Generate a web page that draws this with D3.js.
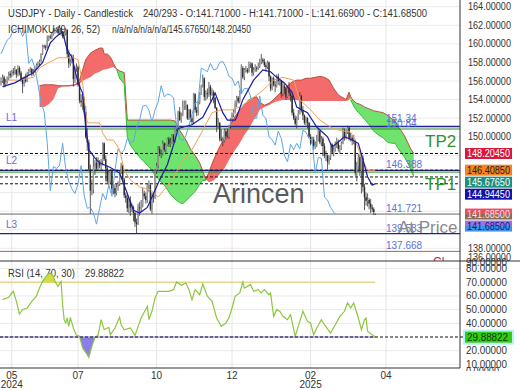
<!DOCTYPE html>
<html>
<head>
<meta charset="utf-8">
<script src="https://cdn.jsdelivr.net/npm/d3@7"></script>
<style>
body { margin: 0; background: #fff; }
svg { display: block; font-family: "Liberation Sans", Arial, sans-serif; }
</style>
</head>
<body>
<svg id="chart" width="520" height="390"></svg>
<script>

// daily candles [open, high, low, close], bar 0 .. 243
var ohlc = [
[155.8,156.4,155.5,156.0],[156.0,156.7,155.8,156.4],[156.4,156.6,155.3,155.6],[155.6,156.2,155.4,155.9],[155.9,156.5,155.7,156.3],
[156.3,157.0,156.1,156.8],[156.8,157.1,156.3,156.6],[156.6,157.2,156.4,157.0],[157.0,157.4,156.6,156.9],[156.9,157.6,156.7,157.2],
[157.2,157.3,156.3,156.7],[156.7,157.7,156.5,157.4],[157.4,157.6,156.6,156.9],[156.9,157.1,155.9,156.2],[156.2,156.4,154.7,155.7],
[155.7,156.5,155.4,156.4],[156.4,156.8,155.8,156.0],[156.0,157.0,155.9,156.9],[156.9,157.3,156.6,157.1],[157.1,157.5,156.9,157.3],
[157.3,157.4,156.5,156.8],[156.8,157.3,156.6,157.0],[157.0,157.6,156.9,157.4],[157.4,157.9,157.2,157.7],[157.7,158.1,157.5,157.9],
[157.9,158.3,157.7,158.1],[158.1,159.0,158.0,158.9],[158.9,159.9,158.8,159.8],[159.8,159.9,159.5,159.7],[159.7,159.9,159.3,159.6],
[159.6,160.9,159.5,160.4],[160.4,160.9,160.3,160.8],[160.8,161.0,160.5,160.7],[160.7,161.2,160.5,161.0],[161.0,161.7,160.9,161.5],
[161.5,161.7,161.1,161.4],[161.4,161.8,161.2,161.6],[161.6,161.9,161.0,161.2],[161.2,161.95,161.1,161.7],[161.7,161.8,160.9,161.3],
[161.3,161.4,160.6,160.8],[160.8,161.3,160.5,161.1],[161.1,161.7,160.9,161.5],[161.5,161.6,158.5,158.9],[158.9,159.4,157.4,157.9],
[157.9,158.4,157.6,158.1],[158.1,158.9,157.9,158.4],[158.4,158.8,155.4,156.2],[156.2,157.6,155.8,157.4],[157.4,157.9,157.0,157.5],
[157.5,157.7,155.4,155.6],[155.6,155.9,153.6,153.9],[153.9,154.6,153.2,153.7],[153.7,154.5,152.9,154.0],[154.0,154.3,152.4,152.7],
[152.7,153.3,149.8,150.0],[150.0,150.9,148.5,149.4],[149.4,149.7,146.3,146.5],[146.5,147.0,141.7,144.2],[144.2,145.4,143.7,144.3],
[144.3,147.8,143.9,146.8],[146.8,147.5,145.9,147.2],[147.2,147.8,146.3,146.6],[146.6,147.8,146.4,147.2],[147.2,147.5,146.6,146.9],
[146.9,147.6,146.5,147.4],[147.4,149.4,146.9,149.3],[149.3,149.4,147.4,147.6],[147.6,148.0,145.2,146.6],[146.6,146.9,145.0,145.2],
[145.2,146.4,144.8,145.2],[145.2,146.5,144.9,146.3],[146.3,146.4,143.9,144.4],[144.4,144.9,143.8,144.5],[144.5,144.9,143.5,143.9],
[143.9,144.9,143.7,144.6],[144.6,145.2,144.2,144.9],[144.9,146.3,144.7,146.2],[146.2,147.2,146.0,146.9],[146.9,147.0,145.2,145.4],
[145.4,145.6,143.4,143.7],[143.7,144.0,142.9,143.4],[143.4,143.8,141.9,142.3],[142.3,143.4,141.8,143.1],[143.1,143.6,141.5,142.4],
[142.4,142.8,141.9,142.4],[142.4,142.6,140.9,141.8],[141.8,141.9,140.3,140.8],[140.8,141.2,139.6,140.6],[140.6,142.8,140.5,142.4],
[142.4,143.0,141.5,142.3],[142.3,143.2,141.9,142.6],[142.6,144.5,142.4,143.9],[143.9,144.2,143.3,143.6],[143.6,144.0,142.8,143.2],
[143.2,144.9,142.9,144.8],[144.8,145.3,144.1,144.8],[144.8,145.0,142.0,142.2],[142.2,144.0,141.7,143.6],[143.6,144.0,142.9,143.5],
[143.5,146.5,143.3,146.4],[146.4,147.2,146.0,146.9],[146.9,149.0,146.6,148.7],[148.7,149.0,147.9,148.2],[148.2,148.6,147.7,148.2],
[148.2,149.6,148.0,149.3],[149.3,149.4,148.4,148.6],[148.6,149.3,148.3,149.1],[149.1,149.9,149.0,149.8],[149.8,150.0,148.9,149.2],
[149.2,149.9,148.9,149.3],[149.3,150.3,149.2,150.1],[150.1,150.3,149.4,149.5],[149.5,151.0,149.4,150.9],[150.9,151.2,150.6,151.0],
[151.0,152.8,150.9,152.7],[152.7,153.2,151.7,151.8],[151.8,152.6,151.5,152.3],[152.3,153.9,152.2,153.3],[153.3,153.9,152.9,153.4],
[153.4,153.9,152.9,153.4],[153.4,153.5,151.8,152.0],[152.0,153.0,151.8,152.9],[152.9,153.0,151.6,152.0],[152.0,152.3,151.3,151.6],
[151.6,154.7,151.4,154.6],[154.6,154.7,152.6,152.9],[152.9,153.2,152.2,152.6],[152.6,153.9,152.3,153.7],[153.7,154.8,153.5,154.6],
[154.6,155.6,154.5,155.5],[155.5,156.7,155.3,156.3],[156.3,156.4,153.9,154.3],[154.3,155.0,153.9,154.7],[154.7,155.2,154.1,154.6],
[154.6,155.9,154.3,155.4],[155.4,155.6,153.8,154.5],[154.5,155.2,154.4,154.8],[154.8,155.0,153.6,154.2],[154.2,154.3,153.0,153.1],
[153.1,153.2,150.5,151.1],[151.1,152.0,150.9,151.5],[151.5,151.6,149.5,149.8],[149.8,150.8,149.5,149.6],[149.6,150.0,149.0,149.6],
[149.6,150.9,149.4,150.6],[150.6,150.9,149.7,150.1],[150.1,150.9,149.9,150.0],[150.0,151.3,149.8,151.2],[151.2,152.0,150.9,151.9],
[151.9,152.6,151.6,152.4],[152.4,153.0,152.1,152.7],[152.7,153.9,152.5,153.6],[153.6,154.4,153.2,154.2],[154.2,154.4,153.6,153.8],
[153.8,155.0,153.6,154.8],[154.8,157.8,154.6,157.4],[157.4,157.6,156.2,156.4],[156.4,157.4,156.1,157.2],[157.2,157.6,156.9,157.2],
[157.2,157.4,156.8,157.0],[157.0,158.1,156.9,157.8],[157.8,158.0,157.4,157.9],[157.9,158.0,156.5,156.9],[156.9,157.5,156.6,157.2],
[157.2,157.8,157.0,157.4],[157.4,157.6,157.0,157.3],[157.3,158.0,157.2,157.6],[157.6,158.4,157.4,158.0],[158.0,158.9,157.8,158.3],
[158.3,158.5,157.9,158.1],[158.1,158.4,157.5,157.7],[157.7,158.0,157.0,157.5],[157.5,158.2,157.3,158.0],[158.0,158.1,156.0,156.5],
[156.5,156.6,154.9,155.2],[155.2,156.4,155.0,156.3],[156.3,156.5,155.4,155.6],[155.6,156.0,154.8,155.5],[155.5,156.7,155.3,156.5],
[156.5,156.8,155.6,156.0],[156.0,156.3,155.5,156.0],[156.0,156.1,154.2,154.6],[154.6,155.9,154.4,155.5],[155.5,155.7,154.6,155.2],
[155.2,155.3,154.0,154.3],[154.3,155.4,154.2,155.2],[155.2,155.9,154.4,154.7],[154.7,155.0,153.8,154.4],[154.4,154.5,152.3,152.6],
[152.6,153.0,151.8,152.0],[152.0,152.3,151.2,151.4],[151.4,152.2,150.9,152.0],[152.0,152.9,151.8,152.5],[152.5,154.8,152.4,154.4],
[154.4,154.5,152.6,152.8],[152.8,153.3,151.8,152.3],[152.3,152.4,151.3,151.5],[151.5,152.2,151.2,152.0],[152.0,152.1,150.9,151.5],
[151.5,151.6,149.9,150.0],[150.0,150.3,149.1,149.3],[149.3,150.0,149.2,149.7],[149.7,150.0,148.6,149.0],[149.0,149.5,148.7,149.1],
[149.1,150.2,148.9,149.8],[149.8,150.9,149.5,150.6],[150.6,150.7,149.2,149.4],[149.4,150.1,149.0,149.8],[149.8,150.0,147.9,149.0],
[149.0,149.3,147.7,148.0],[148.0,148.5,147.4,148.0],[148.0,148.1,146.5,147.3],[147.3,148.0,147.0,147.8],[147.8,149.3,147.5,149.2],
[149.2,149.3,148.1,148.3],[148.3,148.9,147.9,148.6],[148.6,149.5,148.4,149.2],[149.2,149.9,148.8,149.3],[149.3,149.7,148.4,148.7],
[148.7,149.1,148.2,148.7],[148.7,149.5,148.6,149.3],[149.3,151.0,149.2,150.7],[150.7,150.9,149.6,149.9],[149.9,150.8,149.7,150.5],
[150.5,151.2,150.3,151.0],[151.0,151.1,149.6,149.8],[149.8,150.4,149.5,149.9],[149.9,150.2,149.1,149.6],[149.6,150.2,149.2,149.6],
[149.6,149.7,145.8,146.1],[146.1,147.3,145.2,146.9],[146.9,148.2,146.2,147.8],[147.8,148.1,145.8,146.3],[146.3,148.0,143.9,147.7],
[147.7,148.0,144.1,144.6],[144.6,144.9,142.1,143.5],[143.5,144.0,142.6,143.1],[143.1,143.9,142.5,143.2],[143.2,143.4,142.2,142.8],
[142.8,143.3,141.8,142.4],[142.4,142.7,141.9,142.2],[142.2,142.4,141.6,141.9],[141.71,141.71,141.669,141.685]
];

// ichimoku lines, [bar, price]
var tenkan = [[1,155.4],[9,155.8],[21,156.9],[27,158.0],[32,160.1],[36,160.8],[40,161.3],[43,159.3],[46,158.6],[50,155.8],[53,154.7],[55,151.0],[57,148.6],[58,148.4],[61,147.7],[64,147.2],[71,146.7],[77,146.1],[82,143.9],[86,142.1],[90,141.8],[95,142.4],[99,143.9],[103,145.35],[108,147.0],[113,149.65],[115,150.9],[124,151.3],[131,152.1],[137,154.0],[139,154.7],[144,152.6],[147,151.8],[152,151.8],[153,152.1],[157,154.0],[164,156.1],[170,157.2],[175,157.0],[179,156.4],[184,155.8],[189,154.8],[192,153.2],[199,152.6],[205,151.05],[212,150.0],[215,148.9],[218,149.3],[223,150.0],[228,149.65],[232,149.3],[235,147.5],[238,145.7],[241,144.8],[243,144.9445]];

var kijun = [[4,156.1],[12,156.1],[21,156.4],[25,157.4],[30,157.9],[37,158.5],[47,158.5],[50,158.3],[53,155.8],[54,154.0],[56,151.5],[64,151.5],[66,150.4],[69,149.65],[73,149.65],[77,148.6],[80,146.4],[84,145.35],[90,144.6],[97,144.3],[102,143.5],[106,144.3],[111,145.35],[117,147.2],[124,148.6],[130,150.4],[137,152.6],[143,152.9],[150,152.9],[155,153.2],[162,154.0],[170,155.0],[177,156.1],[183,156.4],[190,156.1],[194,154.0],[201,152.9],[207,151.8],[214,151.05],[220,150.7],[227,150.5],[230,149.65],[234,147.8],[238,146.4],[243,146.4085]];

var chikou = [[0,158.9],[2,159.7],[4,160.4],[6,160.7],[8,161.5],[10,161.6],[12,161.7],[14,160.8],[16,161.5],[18,157.9],[20,158.4],[22,157.4],[24,155.6],[26,153.7],[28,152.7],[30,149.4],[32,144.2],[34,146.8],[36,146.6],[38,146.9],[40,149.3],[42,146.6],[44,145.2],[46,144.4],[48,143.9],[50,144.9],[52,146.9],[54,143.7],[56,142.3],[58,142.4],[60,141.8],[62,140.6],[64,142.3],[66,143.9],[68,143.2],[70,144.8],[72,143.6],[74,146.4],[76,148.7],[78,148.2],[80,148.6],[82,149.8],[84,149.3],[86,149.5],[88,151.0],[90,151.8],[92,153.3],[94,153.4],[96,152.9],[98,151.6],[100,152.9],[102,153.7],[104,155.5],[106,154.3],[108,154.6],[110,154.5],[112,154.2],[114,151.1],[116,149.8],[118,149.6],[120,150.1],[122,151.2],[124,152.4],[126,153.6],[128,153.8],[130,157.4],[132,157.2],[134,157.0],[136,157.9],[138,157.2],[140,157.3],[142,158.0],[144,158.1],[146,157.5],[148,156.5],[150,156.3],[152,155.5],[154,156.0],[156,154.6],[158,155.2],[160,155.2],[162,154.4],[164,152.0],[166,152.0],[168,154.4],[170,152.3],[172,152.0],[174,150.0],[176,149.7],[178,149.1],[180,150.6],[182,149.8],[184,148.0],[186,147.3],[188,149.2],[190,148.6],[192,149.3],[194,148.7],[196,150.7],[198,150.5],[200,149.8],[202,149.6],[204,146.1],[206,147.8],[208,147.7],[210,143.5],[212,143.2],[214,142.4],[216,141.9],[217,141.685]];

// cloud spans, shifted 26 bars ahead
var cloudBars = [25,28,31,34,37,40,44,48,51,53,55,58,61,64,66,67,69,71,73,75,77,80,82,84,87,90,93,97,100,103,107,110,113,116,118,120,123,126,129,131,133,135,138,141,145,149,152,155,158,161,164,166,168,171,174,177,180,183,186,189,192,195,198,201,204,207,210,213,216,219,222,224,226,227,229,231,233,236,239,242,245,248,251,254,256,258,260,262,264,266,268];
var spanA = [153.2,153.2,153.5,154.0,155.2,155.4,155.4,155.5,155.7,156.0,156.2,156.4,156.8,157.0,157.2,157.25,157.3,157.4,157.5,157.3,157.1,156.9,151.8,151.8,151.8,151.8,151.8,151.8,151.8,151.8,151.8,151.8,151.7,150.7,150.2,149.65,148.7,148.0,147.2,146.3,145.4,145.1,145.3,145.8,146.6,147.8,148.6,149.3,150.2,150.9,151.8,152.3,152.9,153.2,153.4,153.7,153.85,153.96,153.96,153.96,153.96,153.85,153.85,153.85,153.85,153.85,153.85,153.85,153.85,153.85,153.85,153.85,153.96,154.3,153.85,153.6,153.5,153.2,153.0,152.8,152.7,152.6,152.3,151.9,151.7,151.05,150.6,150.1,149.4,148.7,148.2045];
var spanB = [155.5,155.6,155.6,155.6,155.5,155.5,155.5,155.6,156.1,157.2,158.3,159.0,159.3,159.55,159.55,158.9,158.9,158.6,157.9,157.3,156.3,155.7,150.0,149.1,148.4,147.8,147.3,146.6,145.9,145.3,144.6,143.8,143.3,142.9,142.8,143.1,143.6,144.1,144.9,145.3,145.3,146.2,147.5,148.6,149.9,151.3,152.2,152.9,153.4,154.0,154.2,154.3,153.7,153.4,153.6,154.0,154.5,155.0,155.5,155.9,156.1,156.1,156.3,156.3,156.4,156.5,156.4,156.1,155.2,154.5,154.2,154.0,154.8,153.96,153.3,152.8,152.45,151.9,151.3,150.6,150.2,149.9,149.4,149.3,149.3,148.7,148.25,147.8,147.2,146.5,145.6765];

// RSI(14), [bar, value]
var rsi = [[1,57.3],[5,59.1],[8,63.4],[10,56.1],[12,46.8],[14,50.0],[17,51.2],[20,56.1],[23,59.8],[25,65.8],[27,70.7],[30,75.6],[32,76.8],[34,74.4],[35,70.7],[37,67.1],[39,70.7],[40,53.6],[41,42.7],[42,40.2],[43,43.9],[44,37.8],[45,44.4],[47,36.6],[49,31.2],[51,30.5],[53,22.0],[56,17.1],[57,15.1],[59,23.2],[61,29.8],[63,31.2],[65,42.7],[67,35.3],[70,37.1],[71,31.7],[74,36.6],[77,44.4],[78,39.0],[80,35.3],[84,36.6],[87,31.2],[89,37.8],[91,43.9],[95,52.5],[96,42.7],[98,48.8],[100,58.5],[102,63.4],[105,63.4],[109,63.4],[112,64.6],[114,70.2],[117,67.8],[120,69.5],[122,64.6],[124,57.3],[126,64.6],[129,60.9],[131,68.8],[134,59.8],[137,56.1],[140,43.9],[143,37.8],[146,40.2],[148,44.0],[150,51.2],[152,59.8],[155,62.2],[157,70.2],[158,65.8],[162,68.3],[164,63.4],[167,64.6],[169,62.2],[171,64.6],[174,60.9],[175,62.2],[177,45.1],[179,50.0],[181,48.8],[183,45.1],[186,42.7],[188,46.3],[191,30.5],[193,37.8],[196,48.8],[199,41.5],[201,40.2],[203,31.7],[205,36.6],[208,42.7],[210,39.0],[214,32.9],[217,39.0],[220,45.1],[223,48.8],[225,54.9],[227,51.2],[229,54.9],[232,43.9],[234,35.3],[236,42.7],[237,43.9],[238,34.2],[241,31.7],[243,29.88822]];

// horizontal levels drawn on the price panel
var navyLevels = [151.1, 146.388, 139.583];
var greenLevels = [150.84, 146.2];
var dashLevels = [148.2045, 146.4085, 145.6765, 144.9445];
var lastPrice = 141.685;
var redLevel = 137.668;
var levelTextValues = [151.34, 150.84, 146.388, 141.721, 139.583, 137.668];
var levelTextLabels = ["151.34", "150.84", "146.388", "141.721", "139.583", "137.668"];
var lNames = ["L1", "L2", "L3"];
var tpNames = ["TP2", "TP1"];

// right side value boxes
var boxValues = [148.2045, 146.4085, 145.6765, 144.9445, 141.685, 141.685];
var boxFills = ["#d8173f", "#f7821f", "#1d907c", "#1212a8", "url(#gRed)", "url(#gBlue)"];
var boxText = ["#fff", "#222", "#fff", "#fff", "#fde", "#0a1a80"];
var rsiLast = 29.88822;

var priceTicks = [136,138,140,142,144,146,148,150,152,154,156,158,160,162,164];
var rsiTicks = [0,10,20,30,40,50,60,70,80,90];
var monthBars = [7, 50, 101, 150, 201, 250];
var monthLabels = ["05", "07", "10", "12", "02", "04"];
var yearLabels = ["2024", "", "", "", "2025", ""];

var plotRight = 460, mainBottom = 261, rsiBottom = 368;

var x = d3.scaleLinear().domain([0, 298]).range([1, plotRight]);
var y = d3.scaleLinear().domain([138, 164]).range([248.3, 6.7]);
var yR = d3.scaleLinear().domain([30, 70]).range([337, 282.3]);
var fmt5 = d3.format(".5f");

var svg = d3.select("#chart");
var defs = svg.append("defs");
defs.append("clipPath").attr("id", "clipMain").append("rect")
    .attr("x", 0).attr("y", 0).attr("width", plotRight).attr("height", mainBottom);
defs.append("clipPath").attr("id", "clipRsi").append("rect")
    .attr("x", 0).attr("y", mainBottom).attr("width", plotRight).attr("height", rsiBottom - mainBottom);
defs.append("clipPath").attr("id", "clipAxis").append("rect")
    .attr("x", plotRight).attr("y", 0).attr("width", 60).attr("height", 371);
var gr = defs.append("linearGradient").attr("id", "gRed").attr("x1", 0).attr("y1", 0).attr("x2", 0).attr("y2", 1);
gr.append("stop").attr("offset", "0.5").attr("stop-color", "#e8505c");
gr.append("stop").attr("offset", "0.5").attr("stop-color", "#8c6e55");
var gb = defs.append("linearGradient").attr("id", "gBlue").attr("x1", 0).attr("y1", 0).attr("x2", 0).attr("y2", 1);
gb.append("stop").attr("offset", "0.5").attr("stop-color", "#9d72dc");
gb.append("stop").attr("offset", "0.5").attr("stop-color", "#3f92e8");

// grid
var grid = svg.append("g");
grid.selectAll(".hg").data(priceTicks.filter(function(v) { return y(v) < mainBottom; })).enter().append("line")
    .attr("x1", 0).attr("x2", plotRight).attr("y1", function(d) { return y(d); }).attr("y2", function(d) { return y(d); })
    .attr("stroke", "#ebebeb");
grid.selectAll(".rg").data([10, 20, 40, 50, 60, 80]).enter().append("line")
    .attr("x1", 0).attr("x2", plotRight).attr("y1", function(d) { return yR(d); }).attr("y2", function(d) { return yR(d); })
    .attr("stroke", "#ebebeb");
grid.selectAll(".vg").data(monthBars).enter().append("line")
    .attr("x1", function(d) { return x(d); }).attr("x2", function(d) { return x(d); })
    .attr("y1", 0).attr("y2", rsiBottom).attr("stroke", "#e6e6e6");

var main = svg.append("g").attr("clip-path", "url(#clipMain)");

// cloud
var cloud = cloudBars.map(function(b, i) { return { b: b, a: spanA[i], s: spanB[i] }; });
main.append("path").datum(cloud)
    .attr("d", d3.area().x(function(d) { return x(d.b); })
        .y0(function(d) { return y(d.s); })
        .y1(function(d) { return y(Math.max(d.a, d.s)); }))
    .attr("fill", "#70e26e");
main.append("path").datum(cloud)
    .attr("d", d3.area().x(function(d) { return x(d.b); })
        .y0(function(d) { return y(d.a); })
        .y1(function(d) { return y(Math.max(d.a, d.s)); }))
    .attr("fill", "#f36b6b");
main.append("path").datum(cloud)
    .attr("d", d3.line().x(function(d) { return x(d.b); }).y(function(d) { return y(Math.max(d.a, d.s)); }))
    .attr("fill", "none").attr("stroke", "#b8503c").attr("stroke-width", 1);
main.append("path").datum(cloud)
    .attr("d", d3.line().defined(function(d) { return d.a >= d.s; })
        .x(function(d) { return x(d.b); }).y(function(d) { return y(d.s); }))
    .attr("fill", "none").attr("stroke", "#3cb83c").attr("stroke-width", 1);

// watermark
main.append("text").attr("x", 213).attr("y", 203).attr("font-size", 27)
    .attr("fill", "#5a5a5a").text("Arincen");

// level lines
function hline(v, color, dash, w) {
    main.append("line").attr("x1", 0).attr("x2", plotRight)
        .attr("y1", y(v)).attr("y2", y(v))
        .attr("stroke", color).attr("stroke-width", w || 1)
        .attr("stroke-dasharray", dash || null);
}
navyLevels.forEach(function(v) { hline(v, "#23238f", null, 1.4); });
greenLevels.forEach(function(v) { hline(v, "#2e8b2e", null, 1); });
dashLevels.forEach(function(v) { hline(v, "#111", "3,2", 1); });
hline(lastPrice, "#666", null, 1);
hline(redLevel, "#b45a5a", null, 1);

// candles
var cg = main.append("g");
cg.selectAll(".w").data(ohlc).enter().append("line")
    .attr("x1", function(d, i) { return x(i); }).attr("x2", function(d, i) { return x(i); })
    .attr("y1", function(d) { return y(d[1]); }).attr("y2", function(d) { return y(d[2]); })
    .attr("stroke", "#333").attr("stroke-width", 0.8);
cg.selectAll(".b").data(ohlc).enter().append("rect")
    .attr("x", function(d, i) { return x(i) - 0.7; }).attr("width", 1.4)
    .attr("y", function(d) { return y(Math.max(d[0], d[3])); })
    .attr("height", function(d) { return Math.max(0.8, Math.abs(y(d[0]) - y(d[3]))); })
    .attr("fill", function(d) { return d[3] >= d[0] ? "#9a9a9a" : "#2a2a2a"; });

// ichimoku lines
function pline(data, color, w) {
    main.append("path").datum(data)
        .attr("d", d3.line().x(function(d) { return x(d[0]); }).y(function(d) { return y(d[1]); }))
        .attr("fill", "none").attr("stroke", color).attr("stroke-width", w);
}
pline(chikou, "#5ea6e8", 1);
pline(kijun, "#f2a05a", 1);
pline(tenkan, "#1c1ca0", 1.2);

// level texts
var lt = svg.append("g").attr("font-size", 10).attr("fill", "#6070d8");
levelTextValues.forEach(function(v, i) {
    lt.append("text").attr("x", 386).attr("y", y(v) - 2).text(levelTextLabels[i]);
});
navyLevels.forEach(function(v, i) {
    lt.append("text").attr("x", 6).attr("y", y(v) - 6).attr("fill", "#6a6ad0").text(lNames[i]);
});
greenLevels.forEach(function(v, i) {
    svg.append("text").attr("x", 425).attr("y", y(v) + 18).attr("font-size", 17)
        .attr("fill", "#2e962e").text(tpNames[i]);
});
svg.append("text").attr("x", 398).attr("y", 233).attr("font-size", 17).attr("fill", "#8a8a8a").text("At Price");
main.append("text").attr("x", 433).attr("y", 266).attr("font-size", 12).attr("fill", "#b03030").text("Cl");

// titles, squeezed to the widths seen in the reference
var tt = svg.append("g").attr("font-size", 10).attr("fill", "#333");
function title(tx, ty, w, s) {
    tt.append("text").attr("x", tx).attr("y", ty)
        .attr("textLength", w).attr("lengthAdjust", "spacingAndGlyphs").text(s);
}
title(8, 17, 125, "USDJPY - Daily - Candlestick");
title(143, 17, 284, "240/293 - O:141.71000 - H:141.71000 - L:141.66900 - C:141.68500");
title(8, 33, 92, "ICHIMOKU (9, 26, 52)");
title(112, 33, 139, "n/a/n/a/n/a/n/a/145.67650/148.20450");

// RSI panel
var rp = svg.append("g").attr("clip-path", "url(#clipRsi)");
var lastX = x(ohlc.length - 1);
rp.append("line").attr("x1", 0).attr("x2", lastX).attr("y1", yR(70)).attr("y2", yR(70))
    .attr("stroke", "#e2d78e").attr("stroke-width", 1.5);
rp.append("path").datum(rsi)
    .attr("d", d3.area().x(function(d) { return x(d[0]); })
        .y0(yR(70)).y1(function(d) { return yR(Math.max(d[1], 70)); }))
    .attr("fill", "#d6dc3a");
rp.append("path").datum(rsi)
    .attr("d", d3.area().x(function(d) { return x(d[0]); })
        .y0(yR(30)).y1(function(d) { return yR(Math.min(d[1], 30)); }))
    .attr("fill", "#8c7ee8");
rp.append("line").attr("x1", 0).attr("x2", lastX).attr("y1", yR(30)).attr("y2", yR(30))
    .attr("stroke", "#a8a2e8").attr("stroke-width", 1.5);
svg.append("line").attr("x1", 0).attr("x2", 464).attr("y1", yR(30)).attr("y2", yR(30))
    .attr("stroke", "#111").attr("stroke-dasharray", "3,2");
rp.append("path").datum(rsi)
    .attr("d", d3.line().x(function(d) { return x(d[0]); }).y(function(d) { return yR(d[1]); }))
    .attr("fill", "none").attr("stroke", "#8dc63f").attr("stroke-width", 1.2);
title(8, 277, 67, "RSI (14, 70, 30)");
title(85, 277, 39, "29.88822");

// frame
svg.append("line").attr("x1", plotRight).attr("x2", plotRight).attr("y1", 0).attr("y2", rsiBottom).attr("stroke", "#333");
svg.append("line").attr("x1", 0).attr("x2", 520).attr("y1", mainBottom).attr("y2", mainBottom).attr("stroke", "#333");
svg.append("line").attr("x1", 0).attr("x2", plotRight).attr("y1", rsiBottom).attr("y2", rsiBottom).attr("stroke", "#333");

// value boxes, stacked so they do not overlap
var boxY = [];
var prev = -100;
boxValues.forEach(function(v) {
    var cy = Math.max(y(v), prev + 12);
    boxY.push(cy);
    prev = cy;
});
function hidden(py) {
    return boxY.some(function(b) { return Math.abs(b - py) < 9; });
}

// right axis labels (those covered by a value box are left out)
var ax = svg.append("g").attr("clip-path", "url(#clipAxis)").attr("font-size", 10).attr("fill", "#333");
var pTicks = priceTicks.map(function(v) { return { v: v, py: Math.min(y(v), mainBottom - 4) }; })
    .filter(function(d) { return !hidden(d.py); });
ax.selectAll(".pl").data(pTicks).enter().append("text")
    .attr("x", 468).attr("y", function(d) { return d.py; }).attr("dy", "0.35em")
    .attr("textLength", 43).attr("lengthAdjust", "spacingAndGlyphs")
    .text(function(d) { return fmt5(d.v); });
var rTicks = rsiTicks.map(function(v) { return { v: v, py: Math.min(Math.max(yR(v), mainBottom + 1), rsiBottom + 3) }; })
    .filter(function(d) { return Math.abs(d.py - yR(rsiLast)) > 8; });
ax.selectAll(".rl").data(rTicks).enter().append("text")
    .attr("x", 466).attr("y", function(d) { return d.py; }).attr("dy", "0.35em")
    .attr("textLength", function(d) { return d.v < 10 ? 33 : 41; }).attr("lengthAdjust", "spacingAndGlyphs")
    .text(function(d) { return fmt5(d.v); });

boxValues.forEach(function(v, i) {
    svg.append("rect").attr("x", 465).attr("y", boxY[i] - 5.5).attr("width", 47).attr("height", 11).attr("fill", boxFills[i]);
    svg.append("text").attr("x", 467).attr("y", boxY[i]).attr("dy", "0.35em").attr("font-size", 10)
        .attr("textLength", 43).attr("lengthAdjust", "spacingAndGlyphs")
        .attr("fill", boxText[i]).text(fmt5(v));
});
svg.append("rect").attr("x", 463).attr("y", yR(rsiLast) - 7.5).attr("width", 51).attr("height", 15).attr("fill", "#b8f2f8");
svg.append("rect").attr("x", 465).attr("y", yR(rsiLast) - 5.5).attr("width", 47).attr("height", 11).attr("fill", "#33cc11");
svg.append("text").attr("x", 467).attr("y", yR(rsiLast)).attr("dy", "0.35em").attr("font-size", 10)
    .attr("textLength", 41).attr("lengthAdjust", "spacingAndGlyphs")
    .attr("fill", "#0a3a0a").text(fmt5(rsiLast));

// x axis
var xa = svg.append("g").attr("font-size", 10).attr("fill", "#333").attr("text-anchor", "middle");
xa.selectAll(".m").data(monthBars).enter().append("text")
    .attr("x", function(d) { return x(d); }).attr("y", 379)
    .text(function(d, i) { return monthLabels[i]; });
xa.selectAll(".yr").data(monthBars).enter().append("text")
    .attr("x", function(d) { return x(d); }).attr("y", 388)
    .text(function(d, i) { return yearLabels[i]; });

</script>
</body>
</html>
